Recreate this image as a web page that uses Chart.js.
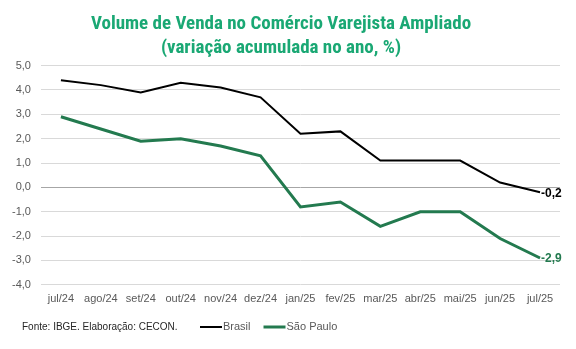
<!DOCTYPE html>
<html lang="pt">
<head>
<meta charset="UTF-8">
<title>Volume de Venda no Comércio Varejista Ampliado</title>
<style>
  html, body { margin: 0; padding: 0; background: #ffffff; }
  .wrap { width: 576px; height: 349px; position: relative; }
</style>
</head>
<body>
<div class="wrap"><canvas id="chart"></canvas></div>
<script src="https://cdn.jsdelivr.net/npm/chart.js"></script>
<script>
const months = ['jul/24', 'ago/24', 'set/24', 'out/24', 'nov/24', 'dez/24', 'jan/25',
                'fev/25', 'mar/25', 'abr/25', 'mai/25', 'jun/25', 'jul/25'];
const brasil = [4.4, 4.2, 3.9, 4.3, 4.1, 3.7, 2.2, 2.3, 1.1, 1.1, 1.1, 0.2, -0.2];
const saoPaulo = [2.9, 2.4, 1.9, 2.0, 1.7, 1.3, -0.8, -0.6, -1.6, -1.0, -1.0, -2.1, -2.9];
const yTicks = [5, 4, 3, 2, 1, 0, -1, -2, -3, -4];
const sourceNote = 'Fonte: IBGE. Elaboração: CECON.';

const fmt = v => v.toFixed(1).replace('.', ',');

// last value label + bottom legend/source line
const extras = {
  id: 'extras',
  afterDatasetsDraw(chart) {
    const { ctx } = chart;
    ctx.save();
    chart.data.datasets.forEach((ds, i) => {
      const pts = chart.getDatasetMeta(i).data;
      const p = pts[pts.length - 1];
      ctx.font = 'bold 12px "Liberation Sans", Arial, sans-serif';
      ctx.fillStyle = ds.borderColor;
      ctx.textBaseline = 'middle';
      ctx.textAlign = 'left';
      ctx.fillText(fmt(ds.data[ds.data.length - 1]), p.x + 1, p.y + 1);
    });
    ctx.restore();
  },
  afterDraw(chart) {
    const { ctx } = chart;
    const y = 327;
    ctx.save();
    ctx.font = '10px "Liberation Sans", Arial, sans-serif';
    ctx.textBaseline = 'middle';
    ctx.fillStyle = '#262626';
    ctx.textAlign = 'left';
    ctx.fillText(sourceNote, 22, y);
    ctx.font = '11px "Liberation Sans", Arial, sans-serif';
    let x = 200;
    chart.data.datasets.forEach(ds => {
      ctx.strokeStyle = ds.borderColor;
      ctx.lineWidth = ds.borderWidth;
      ctx.beginPath();
      ctx.moveTo(x, y);
      ctx.lineTo(x + 22, y);
      ctx.stroke();
      ctx.fillStyle = '#595959';
      ctx.fillText(ds.label, x + 23, y);
      x += 23 + ctx.measureText(ds.label).width + 13;
    });
    ctx.restore();
  }
};

new Chart(document.getElementById('chart'), {
  type: 'line',
  data: {
    labels: months,
    datasets: [
      { label: 'Brasil', data: brasil, borderColor: '#000000', backgroundColor: '#000000',
        borderWidth: 2, pointRadius: 0, tension: 0 },
      { label: 'São Paulo', data: saoPaulo, borderColor: '#237a4f', backgroundColor: '#237a4f',
        borderWidth: 3, pointRadius: 0, tension: 0 }
    ]
  },
  options: {
    responsive: true,
    maintainAspectRatio: false,
    animation: false,
    layout: { padding: { left: 2, right: 16, top: 6, bottom: 43 } },
    plugins: {
      legend: { display: false },
      tooltip: { enabled: false },
      title: {
        display: true,
        text: ['Volume de Venda no Comércio Varejista Ampliado', '(variação acumulada no ano, %)'],
        color: '#1aa874',
        font: { size: 19, weight: 'bold', family: '"Liberation Sans Narrow", "Roboto Condensed", Roboto, sans-serif', lineHeight: 1.28 },
        padding: { top: 6, bottom: 5 }
      }
    },
    scales: {
      x: {
        offset: true,
        grid: { display: false },
        border: { display: false },
        ticks: { color: '#595959', font: { size: 11, family: '"Liberation Sans", Arial, sans-serif' },
                 maxRotation: 0, autoSkip: false, padding: 0 }
      },
      y: {
        min: -4, max: 5,
        afterBuildTicks: s => { s.ticks = yTicks.map(v => ({ value: v })); },
        border: { display: false },
        grid: {
          color: c => c.tick && c.tick.value === 0 ? '#a6a6a6' : '#d9d9d9',
          lineWidth: 1,
          drawTicks: false
        },
        ticks: { color: '#595959', font: { size: 11, family: '"Liberation Sans", Arial, sans-serif' },
                 padding: 10, callback: v => fmt(v) }
      }
    }
  },
  plugins: [extras]
});
</script>
</body>
</html>
